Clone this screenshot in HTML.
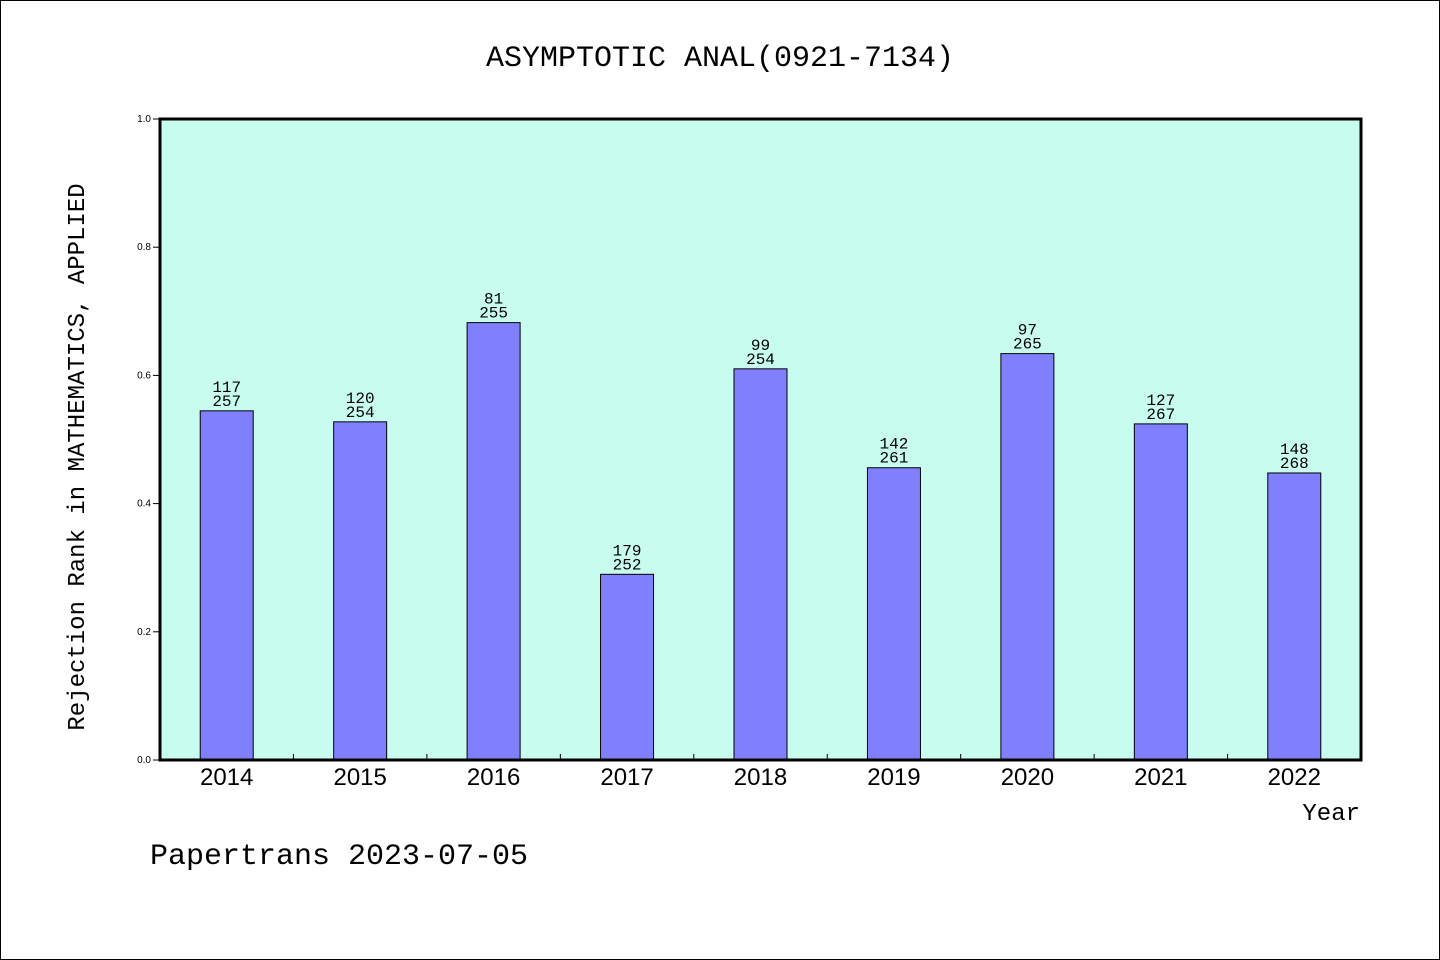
<!DOCTYPE html>
<html><head><meta charset="utf-8"><style>
body{margin:0;background:#fff;}
svg{display:block;font-family:"Liberation Mono","WenQuanYi Zen Hei",monospace;}
</style></head><body>
<svg id="c" width="1440" height="960">
<rect x="0.5" y="0.5" width="1439" height="959" fill="#fff" stroke="#000"/>
<text x="720" y="66" font-size="30" text-anchor="middle" font-family="'WenQuanYi Zen Hei','Liberation Mono',monospace">ASYMPTOTIC ANAL(0921-7134)</text>
<rect x="160" y="119" width="1201" height="641" fill="#c8fcee"/>
<g id="marks"></g>
<rect x="160" y="119" width="1201" height="641" fill="none" stroke="#000" stroke-width="3"/>
<text transform="translate(84,457) rotate(-90)" font-size="24" text-anchor="middle" font-family="'WenQuanYi Zen Hei','Liberation Mono',monospace">Rejection Rank in MATHEMATICS, APPLIED</text>
<text x="1360" y="820" font-size="24" text-anchor="end" font-family="'WenQuanYi Zen Hei','Liberation Mono',monospace">Year</text>
<text x="150" y="864" font-size="30" font-family="'WenQuanYi Zen Hei','Liberation Mono',monospace">Papertrans 2023-07-05</text>
</svg>
<script>
const years = ["2014","2015","2016","2017","2018","2019","2020","2021","2022"];
const ranks = [117,120,81,179,99,142,97,127,148];
const totals = [257,254,255,252,254,261,265,267,268];
const yTicks = [0,0.2,0.4,0.6,0.8,1.0];
const NS="http://www.w3.org/2000/svg";
const X0=160,W=1201,Y0=760,H=641;
const step=W/years.length;
const xc=i=>X0+step*(i+0.5);
const y=v=>Y0-v*H;
const g=document.getElementById('marks');
function mk(t,a){const e=document.createElementNS(NS,t);for(const k in a)e.setAttribute(k,a[k]);g.appendChild(e);return e;}
yTicks.forEach(v=>{
  const l=mk('line',{x1:153,x2:160,y1:y(v),y2:y(v),stroke:'#000'});
  
  
  const t=mk('text',{x:151,y:y(v)+3,'font-size':10,'text-anchor':'end','font-family':'Liberation Sans,sans-serif'});
  t.textContent=v.toFixed(1);
  
  
});
for(let i=1;i<years.length;i++){
  const l=mk('line',{x1:X0+step*i,x2:X0+step*i,y1:Y0,y2:Y0-6,stroke:'#000'});
  
  
}
years.forEach((yr,i)=>{
  const v=1-ranks[i]/totals[i];
  const b=mk('rect',{x:xc(i)-26.5,y:y(v),width:53,height:Y0-y(v),fill:'#8080ff',stroke:'#000','stroke-width':1});
  
  
  const t1=mk('text',{x:xc(i),y:y(v)-19,'font-size':16,'text-anchor':'middle'});
  t1.textContent=ranks[i];
  
  
  const t2=mk('text',{x:xc(i),y:y(v)-5,'font-size':16,'text-anchor':'middle'});
  t2.textContent=totals[i];
  
  
  const xl=mk('text',{x:xc(i),y:785,'font-size':24,'text-anchor':'middle','font-family':'Liberation Sans,sans-serif'});
  xl.textContent=yr;
  
  
});
</script>
</body></html>
